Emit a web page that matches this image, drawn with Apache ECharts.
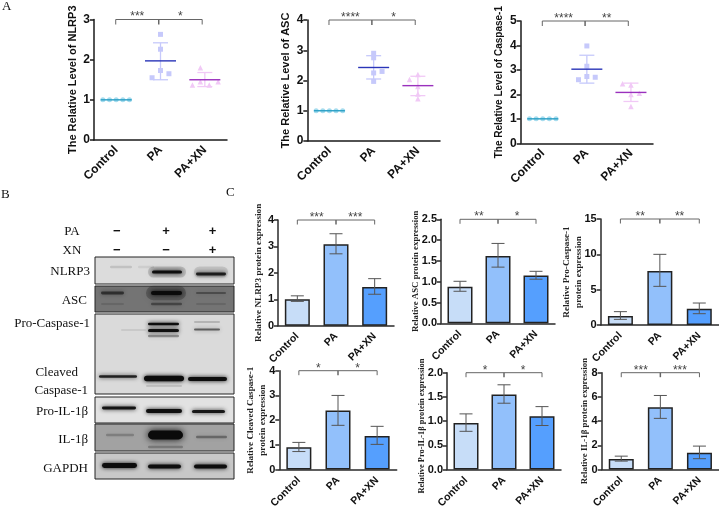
<!DOCTYPE html>
<html><head><meta charset="utf-8">
<style>html,body{margin:0;padding:0;background:#fff}#c{width:719px;height:511px}</style>
<script src="https://cdn.jsdelivr.net/npm/echarts@6/dist/echarts.min.js"></script>
</head><body><div id="c"></div>
<script>
const categories = ['Control','PA','PA+XN'];

// Panel A: relative levels (means, SD low, SD high)
const nlrp3Mean=[1,1.97,1.5], nlrp3Low=[1,1.5,1.33], nlrp3High=[1,2.42,1.68];
const ascMean=[1,2.43,1.83], ascLow=[1,2.05,1.5], ascHigh=[1,2.82,2.14];
const casp1Mean=[1,3.03,2.08], casp1Low=[1,2.46,1.71], casp1High=[1,3.6,2.46];
// individual points [group + jitter, value]
const ctrlPts=[[-0.3,1],[-0.15,1],[0,1],[0.15,1],[0.3,1]];
const nlrp3Pa=[[1,2.63],[1,2.26],[1,1.73],[1.19,1.65],[0.81,1.55]];
const nlrp3Xn=[[1.9,1.8],[1.72,1.37],[1.9,1.45],[2.1,1.37],[2.3,1.45]];
const ascPa=[[1,2.9],[1,2.75],[1,2.25],[1,1.97],[1.19,2.3]];
const ascXn=[[2,2.2],[1.81,2.03],[2,1.8],[2,1.55],[2,1.4]];
const casp1Pa=[[1,3.98],[1,3.15],[1,2.73],[1.19,2.7],[0.81,2.6]];
const casp1Xn=[[1.81,2.43],[2,2.38],[2,2.0],[2.19,2.05],[2,1.5]];

// Panel C: protein expression (bar, err low, err high)
const cNlrp3=[1.0,3.08,1.46], cNlrp3Lo=[0.92,2.72,1.19], cNlrp3Hi=[1.13,3.48,1.78];
const cAsc=[0.88,1.62,1.15], cAscLo=[0.77,1.35,1.06], cAscHi=[1.01,1.92,1.25];
const cPro=[1.27,7.64,2.31], cProLo=[0.8,5.47,1.6], cProHi=[1.89,10,3.11];
const cCleaved=[0.9,2.39,1.36], cCleavedLo=[0.73,1.79,1.02], cCleavedHi=[1.1,3.0,1.75];
const cProIl=[0.96,1.55,1.1], cProIlLo=[0.79,1.37,0.91], cProIlHi=[1.15,1.75,1.3];
const cIl=[0.88,5.14,1.39], cIlLo=[0.7,4.23,0.9], cIlHi=[1.11,6.12,1.94];

// Panel B: blot strips [top, bottom, grey] and bands [left, right, centre, thickness, darkness]
const blotStrips=[[0,27,'#dcdcdc'],[29,55,'#747474'],[57,137,'#dadada'],[140,166,'#e2e2e2'],[167,194,'#a2a2a2'],[196,222,'#c8c8c8']];
const blotBands=[
 [52,92,15,14,0.16],[98,134,15,14,0.12],
 [14,38,10,3,0.12],[42,60,10,3,0.07],[56,88,15,4,0.95],[100,132,17,3.5,0.85],
 [50,92,36,18,0.25],[5,30,36,3.5,0.6],[55,88,36,5,0.98],[100,132,36,2.5,0.35],[5,30,47,2,0.15],[55,88,47,3,0.4],[100,132,47,2,0.15],
 [25,52,73,2,0.1],[52,85,67,3,0.97],[52,85,73.5,4,0.95],[52,85,79,3,0.35],[98,126,65,2,0.22],[98,126,72.5,2.5,0.55],
 [3,43,119.5,3,0.85],[48,90,121.5,7,0.98],[92,133,122,5,0.97],[50,88,129,2,0.15],
 [6,42,151,3.5,0.92],[50,88,154,5,0.95],[96,131,154.5,4,0.9],
 [10,40,178,3,0.22],[52,89,178,11,1],[100,133,180,3,0.35],[52,89,190,3,0.25],
 [6,43,208.5,6,0.97],[52,87,209.5,5,0.95],[98,133,209.5,5,0.97]
];
const blotTreatments=['PA','XN'];
const paSigns=['−','+','+'], xnSigns=['−','−','+'];
const blotLabels=['NLRP3','ASC','Pro-Caspase-1','Cleaved','Caspase-1','Pro-IL-1β','IL-1β','GAPDH'];

const SANS='"Liberation Sans",Arial,sans-serif', SERIF='"Liberation Serif","Times New Roman",serif';
const panels=[
 {kind:'dot',name:'The Relative Level of NLRP3',box:[94,19.5,227,140],max:3,step:1,gap:16,size:11,m:nlrp3Mean,lo:nlrp3Low,hi:nlrp3High,pa:nlrp3Pa,xn:nlrp3Xn,stars:['***','*']},
 {kind:'dot',name:'The Relative Level of ASC',box:[307.3,20,440,141],max:4,step:1,gap:16,size:11,m:ascMean,lo:ascLow,hi:ascHigh,pa:ascPa,xn:ascXn,stars:['****','*']},
 {kind:'dot',name:'The Relative Level of Caspase-1',box:[520.7,21,653,143.3],max:5,step:1,gap:16,size:10,m:casp1Mean,lo:casp1Low,hi:casp1High,pa:casp1Pa,xn:casp1Xn,stars:['****','**']},
 {kind:'bar',name:'Relative NLRP3 protein expression',box:[278,220,394,325.7],max:4,step:1,gap:13,size:9.2,v:cNlrp3,lo:cNlrp3Lo,hi:cNlrp3Hi,stars:['***','***']},
 {kind:'bar',name:'Relative ASC protein expression',box:[441,219.3,555,323.3],max:2.5,step:0.5,gap:19,size:8.8,v:cAsc,lo:cAscLo,hi:cAscHi,stars:['**','*']},
 {kind:'bar',name:'Relative Pro-Caspase-1\nprotein expression',box:[600.7,219,719,325],max:15,step:5,gap:16,size:9.2,v:cPro,lo:cProLo,hi:cProHi,stars:['**','**']},
 {kind:'bar',name:'Relative Cleaved Caspase-1\nprotein expression',box:[279.3,370.7,396.7,476.7],max:4,step:1,gap:11,size:9.1,v:cCleaved,lo:cCleavedLo,hi:cCleavedHi,stars:['*','*']},
 {kind:'bar',name:'Relative Pro-IL-1β protein expression',box:[447,372.7,561,476],max:2,step:0.5,gap:19,size:8.4,pad:[0,10,0,0],v:cProIl,lo:cProIlLo,hi:cProIlHi,stars:['*','*']},
 {kind:'bar',name:'Relative IL-1β protein expression',box:[601.7,372.7,719,476],max:8,step:2,gap:11,size:8.9,v:cIl,lo:cIlLo,hi:cIlHi,stars:['***','***']}
];
const dotColors=['#a6dcee','#c6c9fb','#f1c9f6'], meanColors=['#2a9fc4','#2a35b8','#9a30bd'];
const barColors=['#c7ddf8','#92c0fb','#559ffe'];
const symbols=['circle','rect','triangle'];

const grids=[],xAxes=[],yAxes=[],series=[];
panels.forEach((p,i)=>{
 const dot=p.kind==='dot', b=p.box;
 grids.push({left:b[0],top:b[1],width:b[2]-b[0],height:b[3]-b[1],containLabel:false});
 const lw=1.5,col=dot?'#1a1a1a':'#2a2a2a';
 xAxes.push({gridIndex:i,type:'category',data:categories,
   axisLine:{onZero:false,lineStyle:{color:col,width:lw}},axisTick:{alignWithLabel:true,length:4,lineStyle:{color:col,width:lw}},
   axisLabel:{rotate:45,interval:0,margin:dot?8:9,color:'#111',fontFamily:SANS,fontWeight:'bold',fontSize:dot?12:10.5}});
 xAxes.push({gridIndex:i,type:'value',min:-0.5,max:2.5,show:false});
 yAxes.push({gridIndex:i,type:'value',min:0,max:p.max,interval:p.step,splitLine:{show:false},
   axisLine:{show:true,onZero:false,lineStyle:{color:col,width:lw}},axisTick:{show:true,length:4,lineStyle:{color:col,width:lw}},
   axisLabel:{margin:4,color:'#111',fontFamily:SANS,fontWeight:'bold',fontSize:dot?12:11,formatter:v=>p.step<1?v.toFixed(1):String(v)},
   name:p.name,nameLocation:'middle',nameRotate:90,nameGap:p.gap,nameMoveOverlap:false,
   nameTextStyle:dot?{fontFamily:SANS,fontWeight:'bold',fontSize:p.size,color:'#111'}:{fontFamily:SERIF,fontWeight:'bold',fontSize:p.size,color:'#222',lineHeight:12,padding:p.pad||0}});
 const xi=2*i+1;
 const base={xAxisIndex:xi,yAxisIndex:i,silent:true};
 if(dot){
  const rows=[0,1,2].map(g=>[g,p.m[g],p.lo[g],p.hi[g]]);
  series.push({...base,type:'custom',data:rows,z:2,renderItem:(ps,api)=>{
    const g=api.value(0);if(g===0)return {type:'group',children:[]};
    const t=api.coord([g,api.value(3)]),l=api.coord([g,api.value(2)]);
    const s={stroke:dotColors[g],lineWidth:1.3,fill:null};
    return {type:'group',children:[
      {type:'line',shape:{x1:t[0],y1:t[1],x2:l[0],y2:l[1]},style:s},
      {type:'line',shape:{x1:t[0]-7.5,y1:t[1],x2:t[0]+7.5,y2:t[1]},style:s},
      {type:'line',shape:{x1:l[0]-7.5,y1:l[1],x2:l[0]+7.5,y2:l[1]},style:s}]};
  }});
  [ctrlPts,p.pa,p.xn].forEach((pts,g)=>series.push({...base,type:'scatter',data:pts,symbol:symbols[g],symbolSize:g===2?5.5:5,itemStyle:{color:dotColors[g],opacity:1},z:3}));
  series.push({...base,type:'custom',data:rows,z:4,renderItem:(ps,api)=>{
    const g=api.value(0),c=api.coord([g,api.value(1)]);
    return {type:'line',shape:{x1:c[0]-15.5,y1:c[1],x2:c[0]+15.5,y2:c[1]},style:{stroke:meanColors[g],lineWidth:1.4}};
  }});
 } else {
  series.push({type:'bar',xAxisIndex:2*i,yAxisIndex:i,silent:true,barWidth:25,z:2,
    data:p.v.map((v,g)=>({value:v,itemStyle:{color:barColors[g],borderColor:'#222',borderWidth:1.5}}))});
  series.push({...base,type:'custom',data:[0,1,2].map(g=>[g,p.lo[g],p.hi[g]]),z:4,renderItem:(ps,api)=>{
    const g=api.value(0),t=api.coord([g,api.value(2)]),l=api.coord([g,api.value(1)]);
    const s={stroke:'#555',lineWidth:1,fill:null};
    return {type:'group',children:[
      {type:'line',shape:{x1:t[0],y1:t[1],x2:l[0],y2:l[1]},style:s},
      {type:'line',shape:{x1:t[0]-6.5,y1:t[1],x2:t[0]+6.5,y2:t[1]},style:s},
      {type:'line',shape:{x1:l[0]-6.5,y1:l[1],x2:l[0]+6.5,y2:l[1]},style:s}]};
  }});
 }
 const bx=dot?[-0.01,0.96,1.94]:[0,1,2];
 series.push({...base,type:'custom',data:[[bx[0],bx[1],bx[2],p.max]],z:5,renderItem:(ps,api)=>{
    const a=api.coord([api.value(0),api.value(3)]),m=api.coord([api.value(1),api.value(3)]),e=api.coord([api.value(2),api.value(3)]);
    const s={stroke:'#666',lineWidth:1,fill:null},d=dot?5:4.5;
    const star=(t,x)=>({type:'text',style:{text:t,x:x,y:a[1]+3.5,align:'center',verticalAlign:'bottom',fill:'#444',font:'12px '+SANS}});
    return {type:'group',children:[
      {type:'polyline',shape:{points:[[a[0],a[1]+d],[a[0],a[1]],[e[0],e[1]],[e[0],e[1]+d]]},style:s},
      {type:'line',shape:{x1:m[0],y1:m[1],x2:m[0],y2:m[1]+d},style:{...s,lineWidth:1.5}},
      star(p.stars[0],(a[0]+m[0])/2),star(p.stars[1],(m[0]+e[0])/2)]};
 }});
});

// Blot grid
const gi=panels.length;
grids.push({left:95,top:257,width:139,height:222});
xAxes.push({gridIndex:gi,type:'value',min:0,max:139,show:false});
yAxes.push({gridIndex:gi,type:'value',min:0,max:222,inverse:true,show:false});
const blotBase={xAxisIndex:xAxes.length-1,yAxisIndex:gi,silent:true};
series.push({...blotBase,type:'custom',z:1,data:blotStrips.map(s=>[s[0],s[1]]),renderItem:(ps,api)=>{
  const a=api.coord([0,api.value(0)]),b=api.coord([139,api.value(1)]);
  return {type:'rect',shape:{x:a[0],y:a[1],width:b[0]-a[0],height:b[1]-a[1]},style:{fill:blotStrips[ps.dataIndex][2]}};
}});
series.push({...blotBase,type:'custom',z:2,data:blotBands,renderItem:(ps,api)=>{
  const h=api.value(3),a=api.coord([api.value(0),api.value(2)-h*0.4]),b=api.coord([api.value(1),api.value(2)+h*0.4]);
  const k=api.value(4),c='rgba(10,10,10,'+k+')';
  return {type:'rect',shape:{x:a[0]+1,y:a[1],width:b[0]-a[0]-2,height:b[1]-a[1],r:(b[1]-a[1])/2},style:{fill:c,shadowBlur:h>8?7:4.5,shadowColor:c}};
}});
series.push({...blotBase,type:'custom',z:3,data:blotStrips.map(s=>[s[0],s[1]]),renderItem:(ps,api)=>{
  const a=api.coord([0,api.value(0)]),b=api.coord([139,api.value(1)]);
  return {type:'rect',shape:{x:a[0],y:a[1],width:b[0]-a[0],height:b[1]-a[1]},style:{fill:null,stroke:'#222',lineWidth:1}};
}});

const tx=(t,x,y,align,size,extra)=>({type:'text',x:x,y:y,style:{text:t,align:align,verticalAlign:'middle',fontFamily:SERIF,fontSize:size,fill:'#111',...(extra||{})},silent:true});
const labelRight=[90,87,90,78,88,88,88,88], labelY=[271.7,300.7,324,373,390.7,411.7,440,468.3];
const laneX=[116.7,166,212.5];
const graphics=[
  tx('A',2,6.5,'left',13),tx('B',1,195,'left',13),tx('C',226,193,'left',13),
  tx(blotTreatments[0],72,231.7,'center',13),tx(blotTreatments[1],72,250.7,'center',13),
  ...blotLabels.map((t,i)=>tx(t,labelRight[i],labelY[i],'right',13)),
  ...paSigns.map((t,i)=>tx(t,laneX[i],231,'center',13,{fontFamily:SANS,fontWeight:'bold'})),
  ...xnSigns.map((t,i)=>tx(t,laneX[i],250,'center',13,{fontFamily:SANS,fontWeight:'bold'}))
];

const chart=echarts.init(document.getElementById('c'),null,{renderer:'canvas',width:719,height:511});
chart.setOption({animation:false,backgroundColor:'#fff',grid:grids,xAxis:xAxes,yAxis:yAxes,series:series,graphic:graphics});
</script></body></html>
